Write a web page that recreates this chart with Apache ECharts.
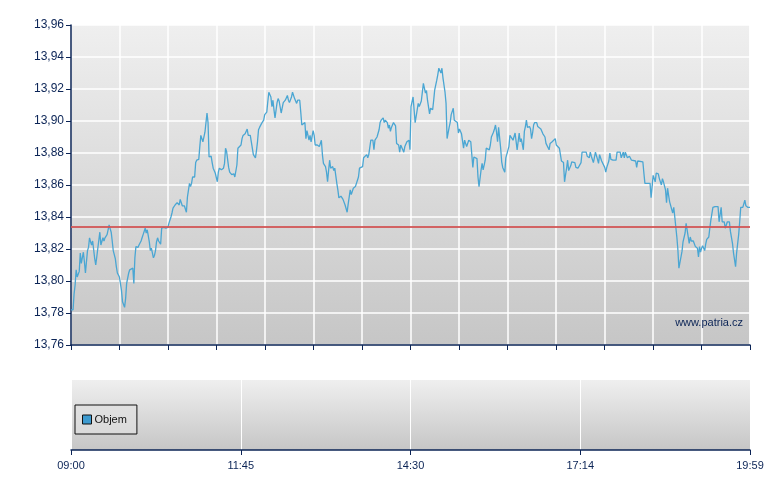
<!DOCTYPE html>
<html>
<head>
<meta charset="utf-8">
<script src="https://cdn.jsdelivr.net/npm/echarts@6/dist/echarts.min.js"></script>
<style>html,body{margin:0;padding:0;background:#fff}#c{width:780px;height:490px}</style>
</head>
<body>
<div id="c"></div>
<script>
// minutes since 09:00 and last price
const priceSeries = [
[0,13.782],[2,13.782],[3,13.792],[4,13.7975],[5,13.807],[6,13.8025],[8,13.806],[9,13.8175],[10,13.811],[12,13.818],[13,13.812],[14,13.805],[16,13.819],[17,13.821],[18,13.827],[19,13.8245],[20,13.8225],[21,13.825],[23,13.814],[24,13.81],[25,13.815],[27,13.8255],[28,13.8305],[29,13.8225],[31,13.827],[32,13.825],[33,13.827],[35,13.829],[36,13.832],[37,13.835],[39,13.8305],[40,13.825],[41,13.819],[43,13.814],[44,13.809],[45,13.805],[47,13.8025],[48,13.8015],[49,13.794],[50,13.787],[52,13.7835],[53,13.789],[54,13.7985],[56,13.805],[57,13.807],[58,13.806],[60,13.808],[61,13.7985],[62,13.8145],[63,13.8215],[65,13.821],[66,13.8225],[68,13.825],[69,13.827],[70,13.829],[72,13.833],[73,13.83],[74,13.832],[76,13.8245],[77,13.819],[78,13.8205],[80,13.8145],[81,13.816],[82,13.819],[83,13.8245],[84,13.827],[85,13.825],[87,13.823],[88,13.833],[90,13.8335],[92,13.833],[94,13.8335],[95,13.836],[97,13.84],[98,13.8425],[99,13.8455],[101,13.8475],[103,13.849],[105,13.8475],
[106,13.851],[108,13.847],[110,13.847],[112,13.843],[113,13.8525],[115,13.861],[116,13.859],[117,13.861],[118,13.865],[120,13.865],[121,13.874],[122,13.8755],[124,13.876],[125,13.884],[126,13.891],[127,13.892],[128,13.887],[130,13.893],[131,13.899],[132,13.905],[133,13.899],[134,13.8775],[136,13.878],[137,13.874],[138,13.8705],[139,13.871],[140,13.8675],[142,13.862],[143,13.868],[144,13.8705],[146,13.8695],[148,13.8705],[149,13.8735],[150,13.883],[151,13.881],[153,13.871],[154,13.868],[156,13.8665],[158,13.867],[159,13.865],[161,13.8725],[162,13.883],[163,13.882],[165,13.885],[166,13.889],[167,13.891],[169,13.892],[171,13.895],[172,13.891],[174,13.891],[175,13.890],[177,13.879],[179,13.877],[180,13.8815],[181,13.887],[182,13.8945],[183,13.896],[185,13.8985],[187,13.9005],[188,13.904],[190,13.9055],[191,13.912],[192,13.918],[194,13.915],[195,13.909],[196,13.913],[197,13.907],[198,13.902],[200,13.9115],[201,13.914],[202,13.9125],[204,13.905],[205,13.905],[206,13.9115],[208,13.913],[210,13.916],[211,13.913],[212,13.9115],[214,13.915],[215,13.918],[216,13.917],[217,13.914],[219,13.911],[220,13.913],[222,13.913],
[223,13.9055],[224,13.8975],[225,13.8965],[227,13.899],[228,13.889],[229,13.894],[231,13.888],[232,13.891],[233,13.887],[235,13.894],[236,13.891],[237,13.885],[239,13.885],[241,13.884],[243,13.888],[244,13.879],[245,13.8735],[247,13.8715],[248,13.868],[249,13.862],[250,13.869],[251,13.8755],[252,13.8705],[254,13.8715],[255,13.869],[256,13.8705],[258,13.861],[259,13.857],[260,13.852],[262,13.853],[263,13.853],[264,13.851],[266,13.8475],[267,13.8465],[268,13.843],[269,13.848],[271,13.857],[272,13.854],[274,13.858],[276,13.859],[278,13.863],[279,13.865],[280,13.8705],[281,13.8705],[283,13.8715],[284,13.877],[285,13.877],[287,13.879],[288,13.877],[289,13.879],[291,13.888],[292,13.887],[293,13.888],[294,13.882],[295,13.888],[297,13.890],[299,13.8945],[300,13.899],[301,13.9005],[303,13.902],[304,13.899],[305,13.9005],[307,13.899],[308,13.8955],[309,13.8975],[310,13.8935],[311,13.896],[313,13.899],[314,13.8995],[315,13.897],[316,13.886],[318,13.885],[319,13.8805],[320,13.885],[322,13.882],[323,13.8805],[324,13.884],[326,13.887],[328,13.888],[329,13.882],
[330,13.909],[332,13.915],[333,13.9155],[334,13.899],[336,13.907],[337,13.911],[338,13.909],[340,13.9125],[341,13.918],[342,13.9235],[344,13.9175],[345,13.919],[346,13.913],[347,13.914],[348,13.9045],[349,13.908],[351,13.907],[352,13.913],[353,13.9195],[355,13.9255],[356,13.929],[357,13.933],[359,13.93],[360,13.933],[361,13.927],[363,13.918],[364,13.911],[365,13.889],[367,13.896],[368,13.899],[369,13.904],[371,13.908],[372,13.9005],[373,13.9015],[375,13.899],[376,13.8925],[377,13.895],[379,13.892],[380,13.8925],[381,13.883],[382,13.888],[383,13.889],[384,13.884],[386,13.888],[387,13.888],[388,13.887],[390,13.871],[391,13.8775],[392,13.8775],[394,13.8765],[395,13.865],[396,13.859],[398,13.8695],[399,13.8735],[400,13.8695],[402,13.8755],[403,13.883],[404,13.884],[406,13.882],[407,13.885],[408,13.890],[410,13.893],[411,13.895],[412,13.8975],[413,13.893],[414,13.887],[415,13.896],[417,13.883],[418,13.8745],[419,13.871],[421,13.868],[422,13.877],[423,13.876],[425,13.884],[426,13.891],[427,13.892],[429,13.888],[430,13.887],[431,13.8925],[432,13.892],[433,13.882],[435,13.8925],[436,13.887],[437,13.889],[439,13.882],[440,13.8935],[441,13.8965],[442,13.9005],[443,13.896],[445,13.8965],
[446,13.895],[447,13.889],[448,13.8925],[449,13.8975],[450,13.899],[452,13.899],[453,13.8965],[454,13.8975],[456,13.895],[457,13.896],[458,13.892],[460,13.89],[461,13.886],[462,13.885],[464,13.882],[465,13.886],[466,13.886],[467,13.887],[468,13.888],[470,13.889],[471,13.885],[472,13.884],[474,13.883],[475,13.879],[476,13.875],[478,13.874],[479,13.862],[480,13.8665],[481,13.8705],[482,13.8755],[483,13.869],[485,13.872],[486,13.8745],[487,13.8745],[489,13.874],[490,13.871],[492,13.8705],[493,13.871],[495,13.874],[496,13.8805],[498,13.8805],[500,13.8805],[501,13.878],[503,13.877],[504,13.8805],[505,13.878],[507,13.874],[508,13.873],[509,13.8805],[511,13.876],[512,13.8735],[513,13.879],[514,13.8795],[515,13.875],[516,13.874],[518,13.871],[519,13.868],[520,13.871],[522,13.875],[523,13.88],[524,13.876],[526,13.8755],[529,13.8755],[530,13.8805],[533,13.8805],[534,13.877],[536,13.8805],[537,13.877],[538,13.8805],[540,13.877],[542,13.878],[544,13.8755],
[545,13.875],[548,13.875],[549,13.871],[550,13.875],[555,13.8745],[556,13.8675],[557,13.861],[562,13.861],[563,13.852],[564,13.859],[565,13.866],[567,13.862],[568,13.8675],[570,13.867],[571,13.864],[573,13.86],[574,13.864],[575,13.862],[577,13.857],[578,13.849],[579,13.858],[580,13.8535],[581,13.8495],[582,13.85],[584,13.8425],[585,13.846],[586,13.84],[588,13.8275],[589,13.8195],[590,13.808],[592,13.815],[593,13.8185],[594,13.8245],[596,13.83],[597,13.836],[598,13.8365],[600,13.8235],[601,13.8275],[602,13.825],[604,13.825],[605,13.824],[606,13.8215],[608,13.8205],[609,13.815],[610,13.8215],[611,13.818],[612,13.8205],[613,13.822],[615,13.819],[616,13.823],[617,13.826],[619,13.8275],[620,13.833],[621,13.838],[623,13.846],[625,13.8465],[628,13.8465],[629,13.837],[631,13.846],[632,13.837],[634,13.837],[635,13.833],[637,13.837],[639,13.837],[640,13.831],[642,13.8235],[643,13.8175],[644,13.8175],[645,13.809],[646,13.8175],[648,13.829],[649,13.837],[650,13.846],[652,13.846],[654,13.8505],[655,13.847],[657,13.846],[659,13.846]
];
const referenceLevel = 13.834;
const volumeSeries = [];
const timeLabels = ['09:00','11:45','14:30','17:14','19:59'];
const sessionMinutes = 659;
const priceMin = 13.76, priceMax = 13.96, priceStep = 0.02;

const navy = '#0b2456';
const bg = {type:'linear',x:0,y:0,x2:0,y2:1,colorStops:[{offset:0,color:'#efefef'},{offset:1,color:'#c6c6c6'}]};
const chart = echarts.init(document.getElementById('c'), null, {renderer:'canvas'});
const labelStep = sessionMinutes / (timeLabels.length - 1);
chart.setOption({
  animation:false,
  backgroundColor:'#ffffff',
  grid:[
    {left:71, top:25, width:679, height:320, show:true, backgroundColor:bg, borderWidth:0},
    {left:71, top:380, width:679, height:70, show:true, backgroundColor:bg, borderWidth:0}
  ],
  legend:{
    data:['Objem'], left:75, top:405, orient:'vertical',
    icon:'rect', itemWidth:9, itemHeight:9, itemGap:0,
    padding:[9,10,9,7],
    backgroundColor:'rgba(225,225,225,0.6)', borderColor:'#111', borderWidth:1, borderRadius:0,
    textStyle:{fontFamily:'Liberation Sans', fontSize:11, color:'#111', padding:[0,0,0,-2]},
    itemStyle:{borderColor:'#111', borderWidth:1}
  },
  xAxis:[
    {type:'value', gridIndex:0, min:0, max:sessionMinutes, interval:sessionMinutes/14,
     axisLine:{show:true, onZero:false, lineStyle:{color:navy, width:1.5}},
     axisTick:{show:true, length:5, lineStyle:{color:navy, width:1}},
     axisLabel:{show:false},
     splitLine:{show:true, lineStyle:{color:'#ffffff', width:1.5}}},
    {type:'value', gridIndex:1, min:0, max:sessionMinutes, interval:labelStep,
     axisLine:{show:true, onZero:false, lineStyle:{color:navy, width:1.5}},
     axisTick:{show:true, length:5, lineStyle:{color:navy, width:1}},
     axisLabel:{show:true, margin:10, color:navy, fontFamily:'Liberation Sans', fontSize:11,
       formatter:function(v){ return timeLabels[Math.round(v/labelStep)]; }},
     splitLine:{show:true, lineStyle:{color:'#ffffff', width:1}}}
  ],
  yAxis:[
    {type:'value', gridIndex:0, min:priceMin, max:priceMax, interval:priceStep,
     axisLine:{show:true, lineStyle:{color:navy, width:1.5}},
     axisTick:{show:true, length:5, lineStyle:{color:navy, width:1}},
     axisLabel:{margin:7, color:navy, fontFamily:'Liberation Sans', fontSize:12,
       formatter:function(v){ return v.toFixed(2).replace('.',','); }},
     splitLine:{show:true, lineStyle:{color:'#ffffff', width:1.5}}},
    {type:'value', gridIndex:1, min:0, max:1,
     axisLine:{show:false}, axisTick:{show:false}, axisLabel:{show:false}, splitLine:{show:false}}
  ],
  graphic:[
    {type:'text', right:37, top:317, z:1, style:{text:'www.patria.cz', fill:navy, font:'11px "Liberation Sans"'}}
  ],
  series:[
    {type:'line', name:'Cena', xAxisIndex:0, yAxisIndex:0, data:priceSeries, showSymbol:false, symbol:'none',
     z:3, lineStyle:{color:'#4aa6d3', width:1.3}, itemStyle:{color:'#4aa6d3'},
     markLine:{silent:true, symbol:'none', precision:4, label:{show:false},
       lineStyle:{color:'#d25555', width:2, type:'solid', opacity:0.9},
       data:[{yAxis:referenceLevel}]}},
    {type:'bar', name:'Objem', xAxisIndex:1, yAxisIndex:1, data:volumeSeries, itemStyle:{color:'#3d9bd0'}}
  ]
});
</script>
</body>
</html>
